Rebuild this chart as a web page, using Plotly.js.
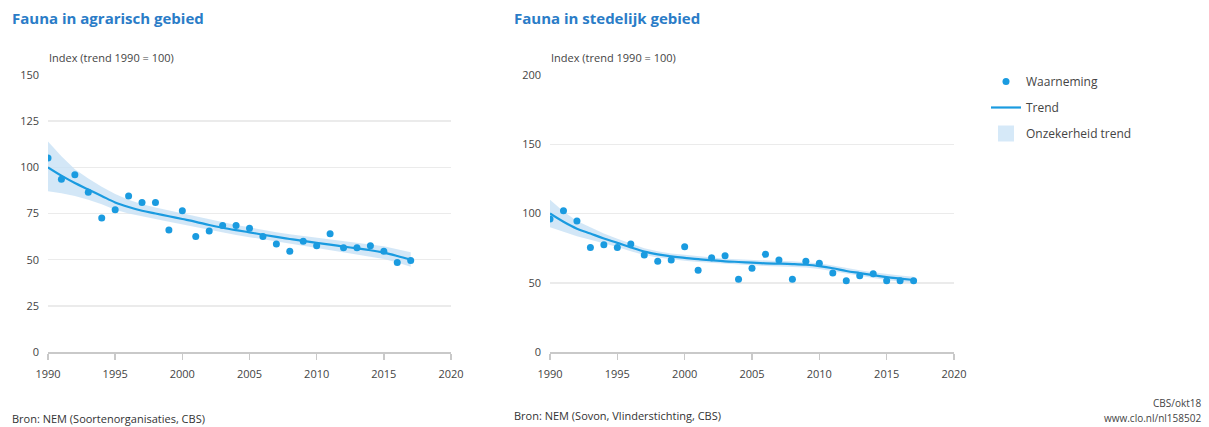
<!DOCTYPE html>
<html>
<head>
<meta charset="utf-8">
<script src="https://cdn.plot.ly/plotly-3.0.1.min.js"></script>
<style>
html,body{margin:0;padding:0;background:#fff;}
#chart{width:1209px;height:427px;}
</style>
</head>
<body>
<div id="chart"></div>
<script>
const years = [1990,1991,1992,1993,1994,1995,1996,1997,1998,1999,2000,2001,2002,2003,2004,2005,2006,2007,2008,2009,2010,2011,2012,2013,2014,2015,2016,2017];

// Fauna in agrarisch gebied
const agrObs   = [105,93.5,96,86.5,72.5,77,84.5,81,81,66,76.5,62.5,65.5,68.5,68.5,67,62.5,58.5,54.5,60,57.5,64,56.5,56.5,57.5,54.5,48.5,49.5];
const agrTrend = [100,95.5,91.5,88,84.5,81,78.5,76.5,75,73.5,72,70.5,68.8,67.3,66,64.8,63.5,62.3,61.2,60.2,59.1,58.1,57.1,56.1,55.1,53.8,52,50];
const agrLow   = [87,86,84.5,82.5,80,77,75,73.3,72,70.5,69,67.6,66,64.6,63.3,62.2,61,59.8,58.7,57.6,56.4,55.3,54.2,53,51.8,50.4,48.4,46.2];
const agrHigh  = [114,106,99,94,89.5,85.5,82.5,80,78.3,76.7,75.2,73.5,71.7,70.1,68.8,67.5,66.1,64.9,63.8,62.9,61.9,61,60.1,59.2,58.4,57.3,55.7,54];

// Fauna in stedelijk gebied
const stdObs   = [96,102,94.5,75.5,77.5,75.5,78,70,65.5,66.5,76,59,68,69.5,52.5,60.5,70.5,66.5,52.5,65.5,64,57,51.5,55,56.5,51.5,51.5,51.5];
const stdTrend = [100,94,89,85.5,82,78.8,75.5,72.5,70.5,69,68,67,66.2,65.5,65,64.5,64,63.8,63.5,63,62,60.5,58.5,57,55.5,54,53,52];
const stdLow   = [90,86.5,83.5,81,78.5,75.8,72.8,70,68.2,66.8,65.8,64.9,64.2,63.6,63.1,62.6,62.1,61.9,61.5,61,60,58.5,56.5,55,53.5,51.9,50.8,49.6];
const stdHigh  = [110,101.5,94.5,90,85.5,81.8,78.2,75,72.8,71.2,70.2,69.1,68.2,67.4,66.9,66.4,65.9,65.7,65.5,65,64,62.5,60.5,59,57.5,56.1,55.2,54.4];

const xTicks = [1990,1995,2000,2005,2010,2015,2020];
const agrYTicks = [0,25,50,75,100,125,150];
const stdYTicks = [0,50,100,150,200];

const blue = '#1a9be0';
const band = 'rgba(200,225,245,0.8)';
const bandLegend = '#d6e9f8';
const FONT = 'Open Sans, Noto Sans, sans-serif';

function traces(xa, ya, obs, trend, low, high, showLeg) {
  return [
    {x: years, y: low, xaxis: xa, yaxis: ya, type: 'scatter', mode: 'lines',
     line: {width: 0, color: band}, showlegend: false, hoverinfo: 'skip'},
    {x: years, y: high, xaxis: xa, yaxis: ya, type: 'scatter', mode: 'lines',
     line: {width: 0, color: band}, fill: 'tonexty', fillcolor: band,
     name: 'Onzekerheid trend', showlegend: false},
    {x: years, y: trend, xaxis: xa, yaxis: ya, type: 'scatter', mode: 'lines',
     line: {width: 2.2, color: blue, shape: 'spline'}, name: 'Trend',
     showlegend: showLeg, legendgroup: 'b', legendrank: 2},
    {x: years, y: obs, xaxis: xa, yaxis: ya, type: 'scatter', mode: 'markers',
     marker: {size: 7, color: blue}, name: 'Waarneming',
     showlegend: showLeg, legendgroup: 'a', legendrank: 1}
  ];
}

const data = [].concat(
  traces('x', 'y', agrObs, agrTrend, agrLow, agrHigh, true),
  traces('x2', 'y2', stdObs, stdTrend, stdLow, stdHigh, false),
  [{x: [null], y: [null], type: 'scatter', mode: 'markers', name: 'Onzekerheid trend',
    marker: {symbol: 'square', size: 17, color: bandLegend}, legendgroup: 'c', legendrank: 3,
    showlegend: true, hoverinfo: 'skip'}]
);

function xax(domain, anchor) {
  return {domain: domain, anchor: anchor, range: [1990, 2020], tickvals: xTicks,
    showgrid: false, zeroline: false, showline: true, linecolor: '#c9c9c9', linewidth: 1.5,
    ticks: 'outside', ticklen: 6, tickcolor: '#c9c9c9', tickwidth: 1.5, ticklabelstandoff: 5,
    tickfont: {family: FONT, size: 11, color: '#444'}, automargin: false, fixedrange: true};
}
function yax(domain, anchor, max, vals) {
  return {domain: domain, anchor: anchor, range: [0, max], tickvals: vals,
    showgrid: true, gridcolor: '#ebebeb', gridwidth: 1.5, zeroline: false, showline: false,
    ticks: '', ticklabelstandoff: 8,
    tickfont: {family: FONT, size: 11, color: '#444'}, automargin: false, fixedrange: true};
}

const yDom = [1 - 352/427, 1 - 75/427];

const layout = {
  width: 1209, height: 427,
  margin: {l: 0, r: 0, t: 0, b: 0},
  paper_bgcolor: '#fff', plot_bgcolor: '#fff',
  font: {family: FONT, color: '#444'},
  xaxis: xax([48/1209, 451/1209], 'y'),
  yaxis: yax(yDom, 'x', 150, agrYTicks),
  xaxis2: xax([550/1209, 954/1209], 'y2'),
  yaxis2: yax(yDom, 'x2', 200, stdYTicks),
  showlegend: true,
  legend: {x: 986/1209, y: 1 - 67/427, xanchor: 'left', yanchor: 'top',
    traceorder: 'grouped', tracegroupgap: 7, itemwidth: 30,
    font: {family: FONT, size: 12, color: '#444'}, bgcolor: 'rgba(0,0,0,0)'},
  annotations: [
    {text: '<b>Fauna in agrarisch gebied</b>', xref: 'paper', yref: 'paper', x: 10/1209, y: 1 - 18/427,
     xanchor: 'left', yanchor: 'middle', showarrow: false, font: {family: FONT, size: 15, color: '#2a7cc7'}},
    {text: '<b>Fauna in stedelijk gebied</b>', xref: 'paper', yref: 'paper', x: 512/1209, y: 1 - 18/427,
     xanchor: 'left', yanchor: 'middle', showarrow: false, font: {family: FONT, size: 15, color: '#2a7cc7'}},
    {text: 'Index (trend 1990 = 100)', xref: 'paper', yref: 'paper', x: 47/1209, y: 1 - 57/427,
     xanchor: 'left', yanchor: 'middle', showarrow: false, font: {family: FONT, size: 11, color: '#444'}},
    {text: 'Index (trend 1990 = 100)', xref: 'paper', yref: 'paper', x: 549/1209, y: 1 - 57/427,
     xanchor: 'left', yanchor: 'middle', showarrow: false, font: {family: FONT, size: 11, color: '#444'}},
    {text: 'Bron: NEM (Soortenorganisaties, CBS)', xref: 'paper', yref: 'paper', x: 10/1209, y: 1 - 418/427,
     xanchor: 'left', yanchor: 'middle', showarrow: false, font: {family: FONT, size: 11, color: '#333'}},
    {text: 'Bron: NEM (Sovon, Vlinderstichting, CBS)', xref: 'paper', yref: 'paper', x: 512/1209, y: 1 - 415/427,
     xanchor: 'left', yanchor: 'middle', showarrow: false, font: {family: FONT, size: 11, color: '#333'}},
    {text: 'CBS/okt18', xref: 'paper', yref: 'paper', x: 1203/1209, y: 1 - 403/427,
     xanchor: 'right', yanchor: 'middle', showarrow: false, font: {family: FONT, size: 10, color: '#444'}},
    {text: 'www.clo.nl/nl158502', xref: 'paper', yref: 'paper', x: 1203/1209, y: 1 - 418/427,
     xanchor: 'right', yanchor: 'middle', showarrow: false, font: {family: FONT, size: 10, color: '#444'}}
  ]
};

Plotly.newPlot('chart', data, layout, {displayModeBar: false, staticPlot: true});
</script>
</body>
</html>
